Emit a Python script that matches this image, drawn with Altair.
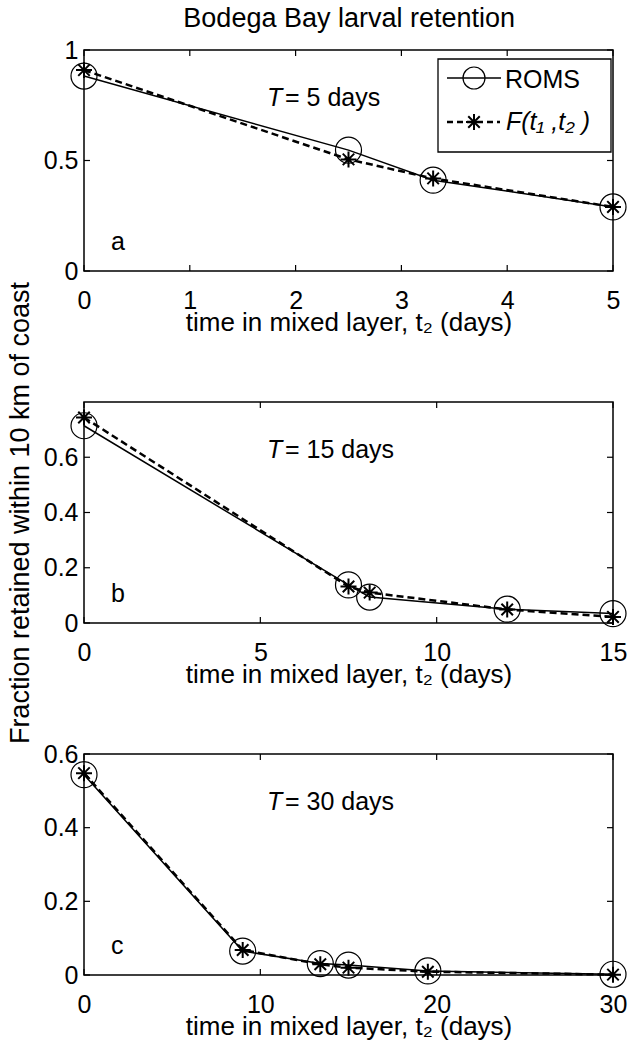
import altair as alt
import pandas as pd

FONT = "Liberation Sans"
FS = 25

# ---- data ----
a_t = [0, 2.5, 3.3, 5]
a_roms = [0.882, 0.547, 0.411, 0.29]
a_f = [0.909, 0.505, 0.419, 0.29]

b_t = [0, 7.5, 8.1, 12, 15]
b_roms = [0.714, 0.138, 0.094, 0.050, 0.034]
b_f = [0.744, 0.132, 0.110, 0.049, 0.022]

c_t = [0, 9, 13.4, 15, 19.5, 30]
c_roms = [0.544, 0.065, 0.031, 0.027, 0.011, 0.002]
c_f = [0.548, 0.068, 0.029, 0.020, 0.009, 0.001]

a_xticks = [0, 1, 2, 3, 4, 5]
b_xticks = [0, 5, 10, 15]
c_xticks = [0, 10, 20, 30]
a_yticks = [0, 0.5, 1]
b_yticks = [0, 0.2, 0.4, 0.6]
c_yticks = [0, 0.2, 0.4, 0.6]

W, H = 529, 221
STAR = "M-1,0L1,0M0,-1L0,1M-0.72,-0.72L0.72,0.72M-0.72,0.72L0.72,-0.72"
XTITLE = "time in mixed layer, t\u2082 (days)"
YTITLE = "Fraction retained within 10 km of coast"


def one():
    return pd.DataFrame({"k": [0]})


def panel(ts, roms, fv, xdom, ydom, xticks, yticks, T, letter, ytitle=False, legend=False):
    df = pd.DataFrame({"t": ts, "v": roms, "w": fv})
    xs = alt.Scale(domain=xdom, nice=False, zero=False)
    ys = alt.Scale(domain=ydom, nice=False, zero=False)
    if ytitle:
        yaxis = alt.Axis(values=yticks, format="~g", title=YTITLE, titleX=-56,
                         titleY=H / 2, titleBaseline="alphabetic", titleAngle=270,
                         titleFontSize=27)
    else:
        yaxis = alt.Axis(values=yticks, format="~g", title=None)
    xaxis = alt.Axis(values=xticks, format="d", title=XTITLE, titleY=59,
                     titleBaseline="alphabetic", labelFlush=False)
    X = lambda: alt.X("t:Q", scale=xs, axis=xaxis)
    base = alt.Chart(df)
    roms_line = base.mark_line(color="black", strokeWidth=1.5).encode(
        x=X(), y=alt.Y("v:Q", scale=ys, axis=yaxis))
    f_line = base.mark_line(color="black", strokeWidth=2.5, strokeDash=[7, 4]).encode(
        x=X(), y=alt.Y("w:Q", scale=ys, axis=yaxis))
    roms_pt = base.mark_point(shape="circle", size=676, filled=False, color="black",
                              strokeWidth=1.2, opacity=1).encode(
        x=X(), y=alt.Y("v:Q", scale=ys, axis=yaxis))
    f_pt = base.mark_point(shape=STAR, size=256, filled=False, color="black",
                           strokeWidth=2, opacity=1).encode(
        x=X(), y=alt.Y("w:Q", scale=ys, axis=yaxis))

    xt = pd.DataFrame({"t": xticks})
    yt = pd.DataFrame({"v": yticks})
    tk = dict(color="black", strokeWidth=1.2)
    xb = alt.Chart(xt).mark_rule(**tk).encode(
        x=X(), y=alt.value(H), y2=alt.value(H - 6))
    xtop = alt.Chart(xt).mark_rule(**tk).encode(
        x=X(), y=alt.value(0), y2=alt.value(6))
    yl = alt.Chart(yt).mark_rule(**tk).encode(
        y=alt.Y("v:Q", scale=ys, axis=yaxis), x=alt.value(0), x2=alt.value(6))
    yr = alt.Chart(yt).mark_rule(**tk).encode(
        y=alt.Y("v:Q", scale=ys, axis=yaxis), x=alt.value(W), x2=alt.value(W - 6))

    txt = dict(font=FONT, fontSize=25, color="black", baseline="alphabetic", align="left")
    t_it = alt.Chart(one()).mark_text(fontStyle="italic", **txt).encode(
        x=alt.value(183), y=alt.value(56), text=alt.value("T"))
    t_rest = alt.Chart(one()).mark_text(**txt).encode(
        x=alt.value(201), y=alt.value(56), text=alt.value(f"= {T} days"))
    let = alt.Chart(one()).mark_text(**txt).encode(
        x=alt.value(27), y=alt.value(H - 21), text=alt.value(letter))

    layers = [roms_line, f_line, roms_pt, f_pt, xb, xtop, yl, yr, t_it, t_rest, let]

    if legend:
        box = alt.Chart(one()).mark_rect(fill="white", stroke="black", strokeWidth=1.3).encode(
            x=alt.value(354), x2=alt.value(527), y=alt.value(9), y2=alt.value(102))
        l1 = alt.Chart(one()).mark_rule(color="black", strokeWidth=1.5).encode(
            x=alt.value(363), x2=alt.value(417), y=alt.value(28))
        p1 = alt.Chart(one()).mark_point(shape="circle", size=484, filled=False, color="black",
                                         strokeWidth=1.2, opacity=1).encode(
            x=alt.value(390), y=alt.value(28))
        s1 = alt.Chart(one()).mark_text(**txt).encode(
            x=alt.value(421), y=alt.value(38), text=alt.value("ROMS"))
        l2 = alt.Chart(one()).mark_rule(color="black", strokeWidth=2.5, strokeDash=[6, 4]).encode(
            x=alt.value(363), x2=alt.value(416), y=alt.value(72))
        p2 = alt.Chart(one()).mark_point(shape=STAR, size=256, filled=False, color="black",
                                         strokeWidth=2, opacity=1).encode(
            x=alt.value(390), y=alt.value(72))
        s2 = alt.Chart(one()).mark_text(fontStyle="italic", **txt).encode(
            x=alt.value(422), y=alt.value(80), text=alt.value("F(t\u2081 ,t\u2082 )"))
        layers += [box, l1, p1, s1, l2, p2, s2]

    return alt.layer(*layers).properties(width=W, height=H)


pa = panel(a_t, a_roms, a_f, [0, 5], [0, 1], a_xticks, a_yticks, 5, "a", legend=True)
pb = panel(b_t, b_roms, b_f, [0, 15], [0, 0.8], b_xticks, b_yticks, 15, "b", ytitle=True)
pc = panel(c_t, c_roms, c_f, [0, 30], [0, 0.6], c_xticks, c_yticks, 30, "c")

chart = alt.vconcat(pa, pb, pc, spacing=131, bounds="flush").properties(
    title=alt.TitleParams("Bodega Bay larval retention", font=FONT, fontSize=27,
                          fontWeight="normal", color="black", anchor="middle",
                          baseline="alphabetic", offset=-17, dx=32),
    padding={"left": 5, "top": 5, "right": 0, "bottom": 0},
    background="white",
).configure_view(stroke="black", strokeWidth=1.5).configure_axis(
    labelFont=FONT, labelFontSize=FS, labelColor="black", labelPadding=6,
    titleFont=FONT, titleFontSize=26, titleFontWeight="normal", titleColor="black",
    ticks=False, tickSize=0, domain=False, grid=False,
).configure_axisX(labelPadding=17)

chart.save("out.html", embed_options={"renderer": "svg", "actions": False})
